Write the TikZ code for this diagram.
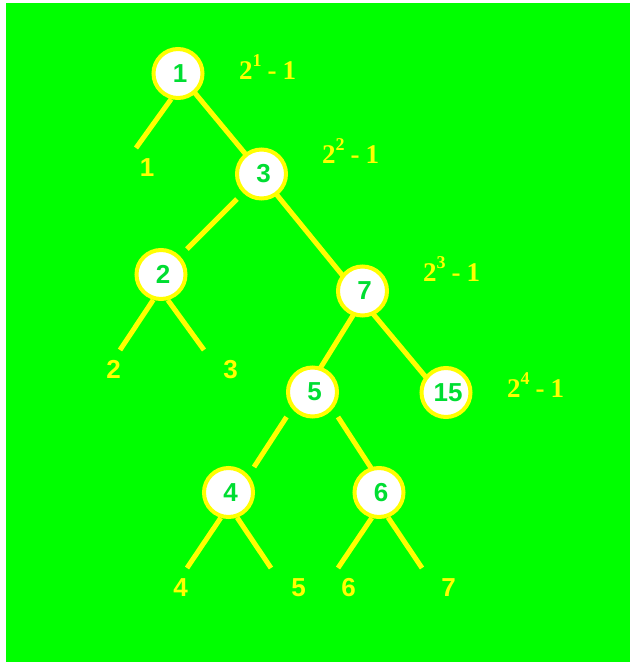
\documentclass[tikz,border=0pt]{standalone}
\usepackage{fontspec}
\setmainfont{Liberation Sans}
\newfontfamily\formfont{Liberation Serif}
\usetikzlibrary{backgrounds}
\definecolor{bggreen}{RGB}{0,255,0}
\definecolor{yel}{RGB}{255,255,0}
\definecolor{numgreen}{RGB}{0,222,50}
\tikzset{
  tnode/.style={circle,draw=yel,line width=4pt,fill=white,minimum size=49pt,inner sep=0pt,text=numgreen,font=\fontsize{26}{26}\selectfont\bfseries},
  tedge/.style={draw=yel,line width=5pt},
  leaflab/.style={anchor=base,text=yel,inner sep=0pt,font=\fontsize{26}{26}\selectfont\bfseries},
  formlab/.style={anchor=base west,text=yel,inner sep=0pt,font=\formfont\fontsize{27}{27}\selectfont\bfseries},
}
\newcommand\powlab[1]{2\raisebox{13pt}{\fontsize{18}{18}\selectfont #1}\hspace{6pt}-\hspace{6pt}1}
\newcommand\nl[1]{\hspace*{4pt}\raisebox{-1pt}{#1}}
\begin{document}
\begin{tikzpicture}[x=1pt,y=-1pt]
\useasboundingbox (0,0) rectangle (630,664);
% nodes
\node[tnode] (n1) at (178,73.5) {\nl{1}};
\node[tnode] (n3) at (261.5,174) {\nl{3}};
\node[tnode] (n2) at (161,274.5) {\nl{2}};
\node[tnode] (n7) at (362.5,291) {\nl{7}};
\node[tnode] (n5) at (312.5,392) {\nl{5}};
\node[tnode] (n15) at (446,392.5) {\nl{15}};
\node[tnode] (n4) at (228.5,492.5) {\nl{4}};
\node[tnode] (n6) at (379,492.5) {\nl{6}};
% free ends of stubs
\coordinate (s1) at (136,148);
\coordinate (s2a) at (120,350);
\coordinate (s2b) at (204,350);
\coordinate (s4a) at (187,568);
\coordinate (s4b) at (271,568);
\coordinate (s6a) at (338,568);
\coordinate (s6b) at (422,568);
\begin{scope}[on background layer]
  \fill[white] (0,0) rectangle (630,664);
  \fill[bggreen] (6,3) rectangle (630,662);
  \draw[tedge] ([shift={(14,16)}]n1.center) -- ([shift={(-13.5,-17)}]n3.center);
  \draw[tedge] ([shift={(-24.5,25)}]n3.center) -- ([shift={(26,-25.5)}]n2.center);
  \draw[tedge] ([shift={(13,18)}]n3.center) -- ([shift={(-19.5,-15)}]n7.center);
  \draw[tedge] ([shift={(-8,22)}]n7.center) -- ([shift={(6,-21)}]n5.center);
  \draw[tedge] ([shift={(9,21)}]n7.center) -- ([shift={(-19,-14)}]n15.center);
  \draw[tedge] ([shift={(-26,25)}]n5.center) -- ([shift={(25.5,-25.5)}]n4.center);
  \draw[tedge] ([shift={(25.5,25)}]n5.center) -- ([shift={(-5,-20)}]n6.center);
  \draw[tedge] (n1.255) -- (s1);
  \draw[tedge] (n2.253) -- (s2a);
  \draw[tedge] (n2.285) -- (s2b);
  \draw[tedge] (n4.253) -- (s4a);
  \draw[tedge] (n4.289) -- (s4b);
  \draw[tedge] (n6.254) -- (s6a);
  \draw[tedge] (n6.290) -- (s6b);
\end{scope}
% leaf labels
\node[leaflab] (l1) at (147,176) {1};
\node[leaflab] (l2) at (113.5,378) {2};
\node[leaflab] (l3) at (230.5,378) {3};
\node[leaflab] (l4) at (180.5,596) {4};
\node[leaflab] (l5) at (298.5,596) {5};
\node[leaflab] (l6) at (348.5,596) {6};
\node[leaflab] (l7) at (448.5,596) {7};
% formulas
\node[formlab] (f1) at (239,79) {\powlab{1}};
\node[formlab] (f2) at (322,163) {\powlab{2}};
\node[formlab] (f3) at (423,281) {\powlab{3}};
\node[formlab] (f4) at (507,397) {\powlab{4}};
\end{tikzpicture}
\end{document}
